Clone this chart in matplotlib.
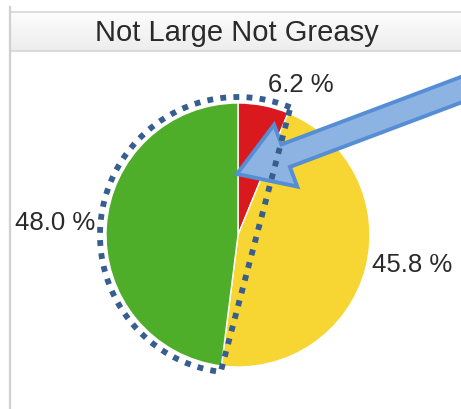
import numpy as np
import matplotlib.pyplot as plt
from matplotlib.patches import Polygon

# данные
title = "Not Large Not Greasy"
shares = [6.2, 45.8, 48.0]
labels = ["6.2 %", "45.8 %", "48.0 %"]
colors = ["#D9191E", "#F7D532", "#4EAE2A"]
label_pos = [(301, 85), (412, 265), (55, 223)]  # в пикселях картинки

W, H = 461, 410
plt.rcParams['font.family'] = ['Liberation Sans', 'DejaVu Sans']

fig = plt.figure(figsize=(W / 100, H / 100), dpi=100)
ax = fig.add_axes([0, 0, 1, 1])


def px(x, y):
    # пиксели картинки (y вниз) -> координаты осей (y вверх)
    return x, H - y


cx, cy = px(238, 236)
r = 132

ax.pie(shares, colors=colors, startangle=90, counterclock=False,
       center=(cx, cy), radius=r,
       wedgeprops=dict(edgecolor='white', linewidth=1))

# шапка с заголовком (лёгкий градиент сверху вниз)
band_top, band_bot = px(0, 13)[1], px(0, 52)[1]
shade = np.linspace(0.99, 0.93, 40)
grad = np.repeat(shade[:, None, None], 3, axis=2)
ax.imshow(grad, extent=(10, W, band_bot, band_top), aspect='auto', zorder=1)
ax.plot([10, W], [band_top, band_top], color='#d6d6d6', lw=1.2, zorder=2)
ax.plot([10, W], [band_bot, band_bot], color='#d6d6d6', lw=1.2, zorder=2)
ax.plot([10, 10], [0, px(0, 8)[1]], color='#d0d0d0', lw=1.6, zorder=2)
ax.text(*px(237, 33), title, ha='center', va='center', fontsize=21,
        color='#2a2a2a', zorder=3)

# подписи долей
for lab, (x, y) in zip(labels, label_pos):
    ax.text(*px(x, y), lab, ha='center', va='center', fontsize=18.5,
            color='#2a2a2a', zorder=3)

# стрелка
tip = np.array(px(237, 175))
d = np.array([226.0, 85.0])
d /= np.linalg.norm(d)
n = np.array([-d[1], d[0]])
head_len, head_w, shaft_w = 52, 66, 24
back = tip + d * head_len
tail = tip + d * 300
arrow = [tip,
         back + n * head_w / 2,
         back + n * shaft_w / 2,
         tail + n * shaft_w / 2,
         tail - n * shaft_w / 2,
         back - n * shaft_w / 2,
         back - n * head_w / 2]
ax.add_patch(Polygon(arrow, closed=True, facecolor='#8DB3E2',
                     edgecolor='#558ED5', linewidth=2.8, joinstyle='miter',
                     zorder=4))

# пунктирный контур вокруг зелёного сектора
a_start = 90 - 360 * shares[0] / 100              # граница красный/жёлтый
a_end = 90 - 360 * (shares[0] + shares[1]) / 100  # граница жёлтый/зелёный
ang = np.radians(np.linspace(a_start, a_end + 360, 200))
ro = r + 6
ox = cx + ro * np.cos(ang)
oy = cy + ro * np.sin(ang)
ox = np.append(ox, ox[0])
oy = np.append(oy, oy[0])
ax.plot(ox, oy, color='#365E8E', lw=4.2, linestyle=(0, (1.0, 1.25)),
        dash_capstyle='butt', zorder=5)

ax.set_xlim(0, W)
ax.set_ylim(0, H)
ax.set_aspect('equal')
ax.axis('off')

fig.savefig('out.png', dpi=100)
